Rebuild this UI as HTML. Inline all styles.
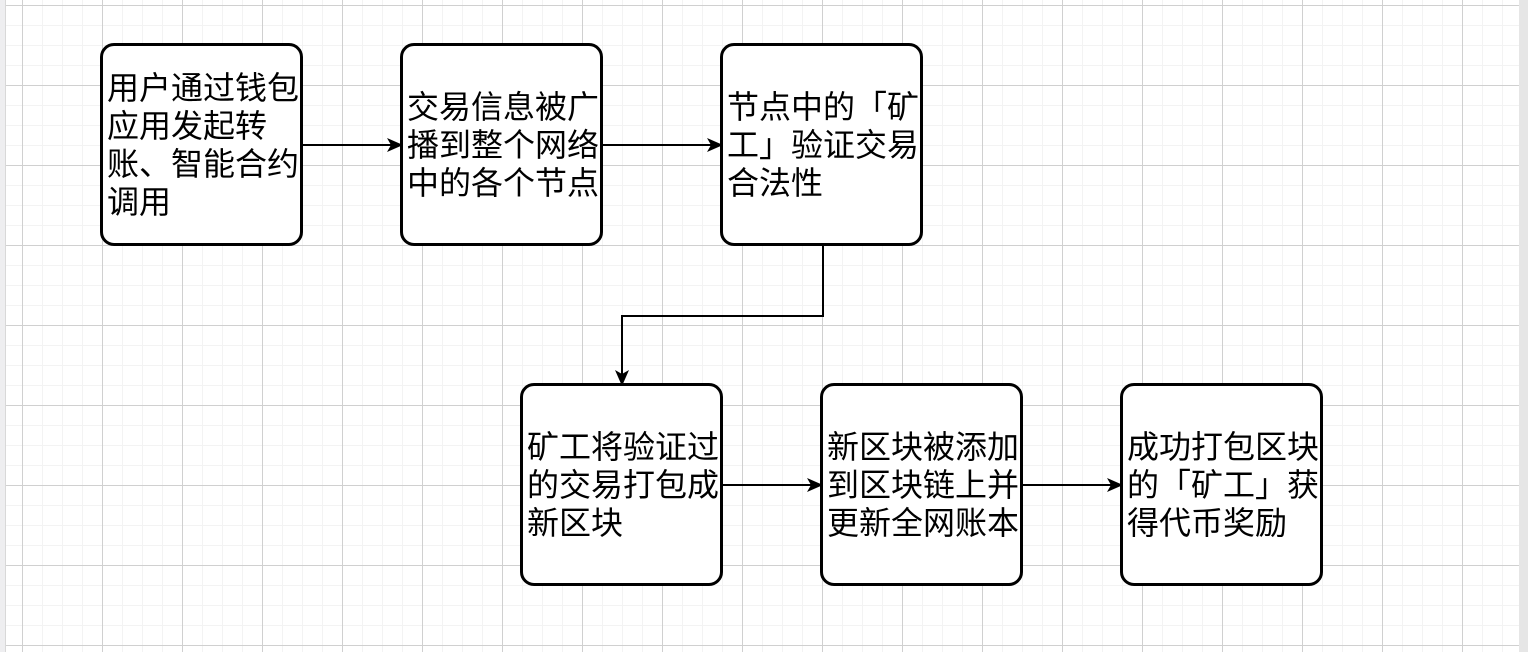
<!DOCTYPE html>
<html><head><meta charset="utf-8"><style>
html,body{margin:0;padding:0;}
body{width:1528px;height:652px;overflow:hidden;position:relative;background:#fff;
font-family:"Liberation Sans","Noto Sans CJK SC",sans-serif;}
#grid{position:absolute;left:6px;top:0;width:1513px;height:652px;
background-color:#fff;
background-image:
linear-gradient(to right,#d0d0d0 1px,transparent 1px),
linear-gradient(to bottom,#d0d0d0 1px,transparent 1px),
linear-gradient(to right,#f3f3f3 1px,transparent 1px),
linear-gradient(to bottom,#f3f3f3 1px,transparent 1px);
background-size:80px 80px,80px 80px,20px 20px,20px 20px;
background-position:16px 5px,16px 5px,16px 5px,16px 5px;}
#lb{position:absolute;left:0;top:0;width:5px;height:652px;background:#eeeef0;border-right:1px solid #d8d8d8;}
#rb{position:absolute;left:1519px;top:0;width:9px;height:652px;background:#e6e6e6;}
.box{position:absolute;width:203px;height:203px;box-sizing:border-box;border:3.5px solid #000;border-radius:14px;background:#fff;
display:flex;align-items:center;padding-left:4px;font-size:32px;line-height:38px;white-space:nowrap;color:#000;}
svg{position:absolute;left:0;top:0;}
</style></head><body>
<div id="grid"></div><div id="lb"></div><div id="rb"></div>
<svg width="1528" height="652">
<defs><marker id="a" markerWidth="16" markerHeight="16" refX="14" refY="8" orient="auto" markerUnits="userSpaceOnUse">
<path d="M0,1 L16,8 L0,15 L4,8 Z" fill="#000"/></marker></defs>
<g stroke="#000" stroke-width="2" fill="none">
<line x1="302" y1="145" x2="401" y2="145" marker-end="url(#a)"/>
<line x1="602" y1="145" x2="721" y2="145" marker-end="url(#a)"/>
<polyline points="823,245 823,316 622,316 622,384" marker-end="url(#a)"/>
<line x1="722" y1="485" x2="821" y2="485" marker-end="url(#a)"/>
<line x1="1022" y1="485" x2="1121" y2="485" marker-end="url(#a)"/>
</g></svg>
<div class="box" style="left:100px;top:43px;"><div>用户通过钱包<br>应用发起转<br>账、智能合约<br>调用</div></div>
<div class="box" style="left:400px;top:43px;"><div>交易信息被广<br>播到整个网络<br>中的各个节点</div></div>
<div class="box" style="left:720px;top:43px;"><div>节点中的「矿<br>工」验证交易<br>合法性</div></div>
<div class="box" style="left:520px;top:383px;"><div>矿工将验证过<br>的交易打包成<br>新区块</div></div>
<div class="box" style="left:820px;top:383px;"><div>新区块被添加<br>到区块链上并<br>更新全网账本</div></div>
<div class="box" style="left:1120px;top:383px;"><div>成功打包区块<br>的「矿工」获<br>得代币奖励</div></div>
</body></html>
